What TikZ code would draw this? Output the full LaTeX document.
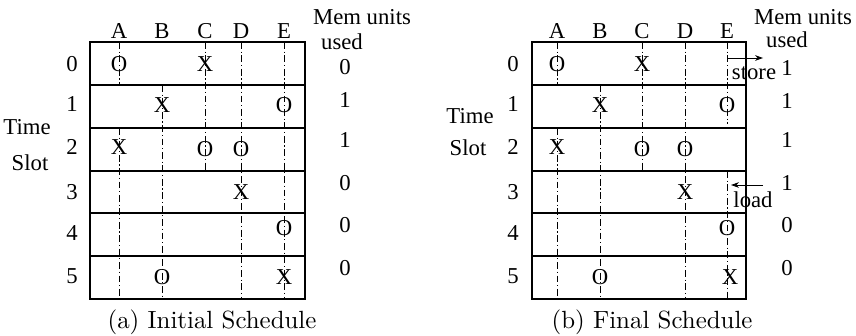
\documentclass[tikz,border=0pt]{standalone}
\usepackage{fontspec}
\setmainfont{Liberation Serif}
\newfontfamily\capfont{Latin Modern Roman}
\usetikzlibrary{arrows.meta}

\begin{document}
\begin{tikzpicture}[x=0.44pt, y=-0.44pt, font=\fontsize{10}{12}\selectfont,
    life/.style={line width=0.4pt, dash pattern=on 3pt off 1.2pt on 0.5pt off 1.2pt},
    grid/.style={line width=0.5pt},
    sym/.style={inner sep=0pt},
    lbl/.style={inner sep=0pt},
    captext/.style={inner sep=0pt, font=\capfont\fontsize{10.95}{13}\selectfont},
    mv/.style={-{Stealth[length=3.5pt, width=2.5pt]}, line width=0.4pt}]
  \useasboundingbox (0,0) rectangle (856,335);

  % (a) initial schedule
  \draw[grid] (90,42) rectangle (305,299);
  \foreach \y in {85,128,171,213,256}
    \draw[grid] (90,\y) -- (305,\y);
  \draw[life] (119,42) -- (119,85);
  \draw[life] (119,128) -- (119,299);
  \draw[life] (162,85) -- (162,299);
  \draw[life] (205,42) -- (205,171);
  \draw[life] (241,42) -- (241,299);
  \draw[life] (284,42) -- (284,299);

  \foreach \c/\x in {A/119,B/162,C/205,D/241,E/284}
    \node[lbl] (ca\c) at (\x,31) {\c};
  \foreach \r/\y in {0/64,1/104,2/147,3/192,4/233,5/276}
    \node[lbl] (ra\r) at (72,\y) {\r};
  \node[lbl] (timea) at (27,127) {Time};
  \node[lbl] (slota) at (30,163) {Slot};
  \node[lbl] (mema) at (362,17) {Mem units};
  \node[lbl] (useda) at (342,42) {used};
  \foreach \r/\y/\v in {0/67/0,1/100/1,2/140/1,3/183/0,4/225/0,5/268/0}
    \node[lbl] (ma\r) at (345,\y) {\v};

  \node[sym] (aA0) at (119,64) {O};
  \node[sym] (aC0) at (205,64) {X};
  \node[sym] (aB1) at (162,105) {X};
  \node[sym] (aE1) at (284,105) {O};
  \node[sym] (aA2) at (119,147) {X};
  \node[sym] (aC2) at (205,149) {O};
  \node[sym] (aD2) at (241,149) {O};
  \node[sym] (aD3) at (241,192) {X};
  \node[sym] (aE4) at (284,228) {O};
  \node[sym] (aB5) at (162,277) {O};
  \node[sym] (aE5) at (284,277) {X};

  \node[captext] (capa) at (212,322) {(a) Initial Schedule};

  % (b) final schedule
  \draw[grid] (532,42) rectangle (746,299);
  \foreach \y in {85,128,171,213,256}
    \draw[grid] (532,\y) -- (746,\y);
  \draw[life] (557,42) -- (557,85);
  \draw[life] (557,128) -- (557,299);
  \draw[life] (600,85) -- (600,299);
  \draw[life] (642,42) -- (642,171);
  \draw[life] (685,42) -- (685,299);
  \draw[life] (727,42) -- (727,124);
  \draw[life] (727,171) -- (727,299);

  \foreach \c/\x in {A/557,B/600,C/642,D/685,E/727}
    \node[lbl] (cb\c) at (\x,31) {\c};
  \foreach \r/\y in {0/64,1/104,2/147,3/192,4/233,5/276}
    \node[lbl] (rb\r) at (513,\y) {\r};
  \node[lbl] (timeb) at (470,116) {Time};
  \node[lbl] (slotb) at (468,148) {Slot};
  \node[lbl] (memb) at (803,17) {Mem units};
  \node[lbl] (usedb) at (787,40) {used};
  \foreach \r/\y/\v in {0/68/1,1/101/1,2/140/1,3/183/1,4/225/0,5/268/0}
    \node[lbl] (mb\r) at (787,\y) {\v};

  \node[sym] (bA0) at (557,64) {O};
  \node[sym] (bC0) at (642,64) {X};
  \node[sym] (bB1) at (600,105) {X};
  \node[sym] (bE1) at (727,105) {O};
  \node[sym] (bA2) at (557,147) {X};
  \node[sym] (bC2) at (642,149) {O};
  \node[sym] (bD2) at (685,149) {O};
  \node[sym] (bD3) at (685,192) {X};
  \node[sym] (bE4) at (727,228) {O};
  \node[sym] (bB5) at (600,277) {O};
  \node[sym] (bE5) at (730,277) {X};

  % store / load
  \coordinate (sts) at (727,58);
  \coordinate (ste) at (763,58);
  \draw[mv] (sts) -- (ste);
  \node[lbl] (store) at (754,73) {store};
  \coordinate (lds) at (763,185);
  \coordinate (lde) at (731,185);
  \draw[mv] (lds) -- (lde);
  \node[lbl] (load) at (753,200) {load};

  \node[captext] (capb) at (652,322) {(b) Final Schedule};
\end{tikzpicture}
\end{document}
